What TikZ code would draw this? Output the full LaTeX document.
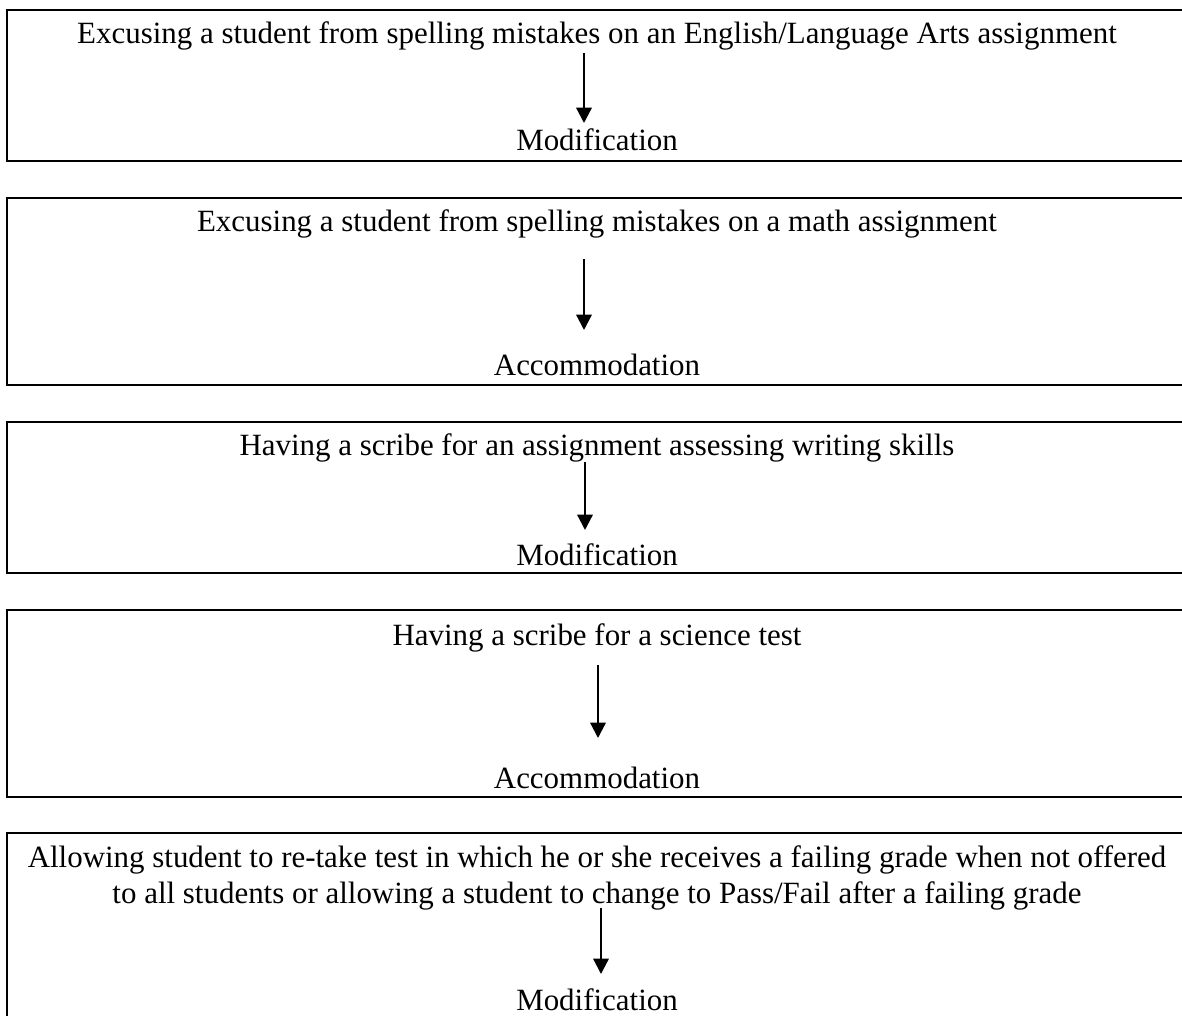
\documentclass[tikz,border=0pt]{standalone}
\usepackage{fontspec}
\setmainfont{Liberation Serif}
\usetikzlibrary{arrows.meta}

\tikzset{
    casebox/.style={line width=1.9pt},
    casetext/.style={anchor=base, inner sep=0pt, align=center,
        font=\fontsize{23.2}{27}\selectfont},
    pointer/.style={line width=1.7pt, -{Triangle[width=11.5pt,length=11.5pt]}}
}

\begin{document}
\begin{tikzpicture}[x=0.75pt, y=-0.75pt]
    \useasboundingbox (0, 0) rectangle (1182, 1015);
    \clip (0, 0) rectangle (1182, 1015);
    \begin{scope}[shift={(0, 10)}]
        \node[casetext] (title1) at (597, 33) {Excusing a student from spelling mistakes on an English/Language Arts assignment};
        \node[casetext] (result1) at (597, 140) {Modification};
        \coordinate (tail1) at (584, 43);
        \coordinate (head1) at (584, 113);
        \draw[pointer] (tail1) -- (head1);
        \draw[casebox] (7, 0) -- (1190, 0) -- (1190, 151) -- (7, 151) -- cycle;
    \end{scope}
    \begin{scope}[shift={(0, 198)}]
        \node[casetext] (title2) at (597, 33) {Excusing a student from spelling mistakes on a math assignment};
        \node[casetext] (result2) at (597, 177) {Accommodation};
        \coordinate (tail2) at (584, 61);
        \coordinate (head2) at (584, 132);
        \draw[pointer] (tail2) -- (head2);
        \draw[casebox] (7, 0) -- (1190, 0) -- (1190, 187) -- (7, 187) -- cycle;
    \end{scope}
    \begin{scope}[shift={(0, 422)}]
        \node[casetext] (title3) at (597, 33) {Having a scribe for an assignment assessing writing skills};
        \node[casetext] (result3) at (597, 143) {Modification};
        \coordinate (tail3) at (585, 40);
        \coordinate (head3) at (585, 108);
        \draw[pointer] (tail3) -- (head3);
        \draw[casebox] (7, 0) -- (1190, 0) -- (1190, 151) -- (7, 151) -- cycle;
    \end{scope}
    \begin{scope}[shift={(0, 610)}]
        \node[casetext] (title4) at (597, 35) {Having a scribe for a science test};
        \node[casetext] (result4) at (597, 178) {Accommodation};
        \coordinate (tail4) at (598, 55);
        \coordinate (head4) at (598, 128);
        \draw[pointer] (tail4) -- (head4);
        \draw[casebox] (7, 0) -- (1190, 0) -- (1190, 187) -- (7, 187) -- cycle;
    \end{scope}
    \begin{scope}[shift={(0, 833)}]
        % base anchor sits on the second line
        \node[casetext] (title5) at (597, 70) {Allowing student to re-take test in which he or she receives a failing grade when not offered\\to all students or allowing a student to change to Pass/Fail after a failing grade};
        \node[casetext] (result5) at (597, 177) {Modification};
        \coordinate (tail5) at (601, 75);
        \coordinate (head5) at (601, 141);
        \draw[pointer] (tail5) -- (head5);
        \draw[casebox] (7, 0) -- (1190, 0) -- (1190, 197) -- (7, 197) -- cycle;
    \end{scope}
\end{tikzpicture}
\end{document}
